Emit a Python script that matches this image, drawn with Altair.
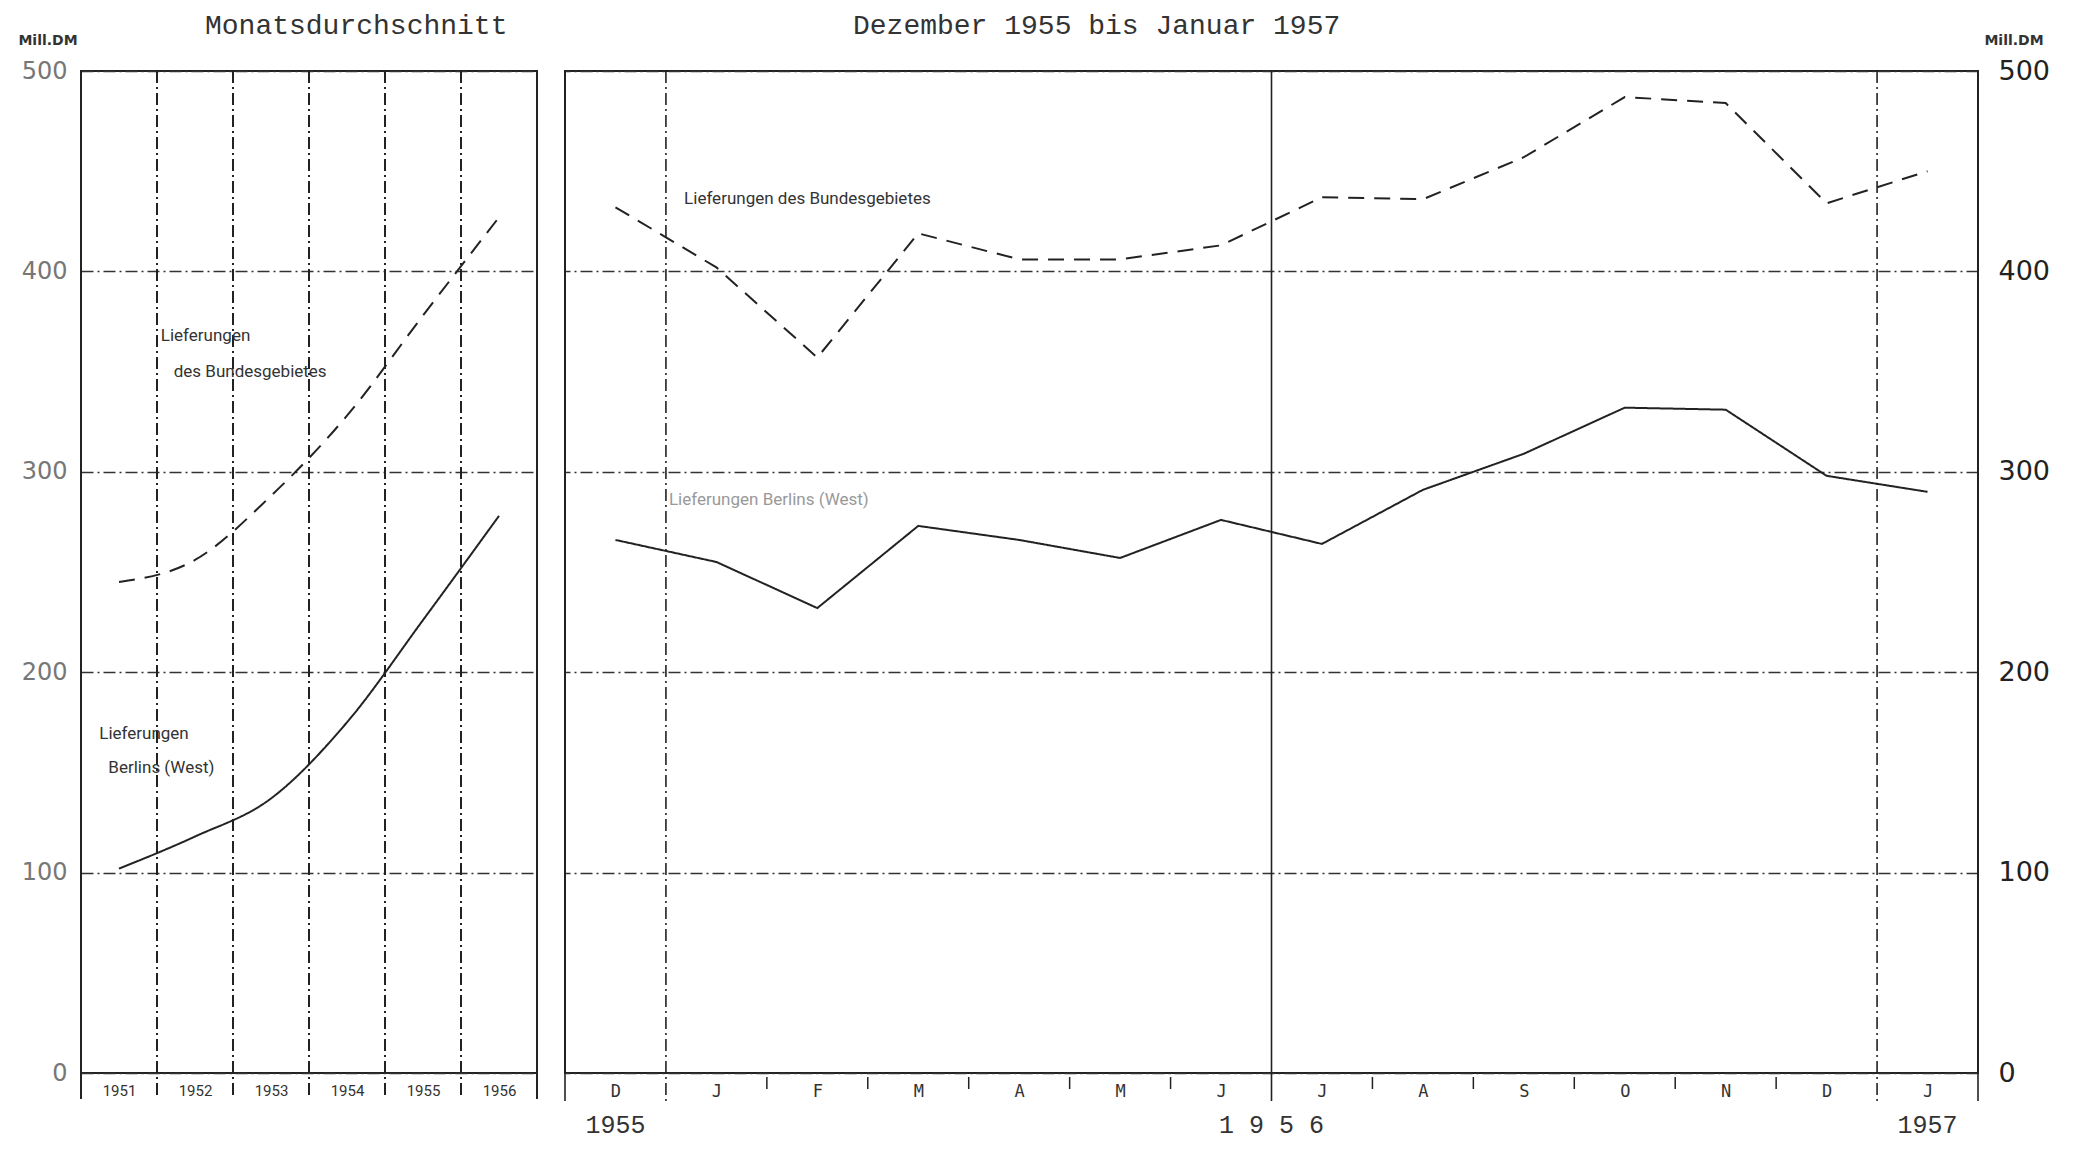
import altair as alt
import pandas as pd

# ---------------- data ----------------
years = [1951, 1952, 1953, 1954, 1955, 1956]
berlin_year = [102, 118, 137, 175, 226, 278]
bund_year = [245, 256, 288, 328, 378, 427]

months = ["D", "J", "F", "M", "A", "M", "J", "J", "A", "S", "O", "N", "D", "J"]
bund_month = [432, 402, 357, 419, 406, 406, 413, 437, 436, 457, 487, 484, 434, 450]
berlin_month = [266, 255, 232, 273, 266, 257, 276, 264, 291, 309, 332, 331, 298, 290]

y_ticks = [0, 100, 200, 300, 400, 500]
bottom_years = ["1955", "1 9 5 6", "1957"]
bottom_year_pos = [0, 6.5, 13]

W_L, W_R, H = 456, 1413, 1002
INK = "#222222"
DASHDOT = [12, 4, 2, 4]


def y_enc(field, orient="left", size=24, color="#777777", pad=14):
    return alt.Y(
        f"{field}:Q",
        scale=alt.Scale(domain=[0, 500], nice=False, zero=True),
        axis=alt.Axis(values=y_ticks, orient=orient, grid=True, gridDash=DASHDOT,
                      gridColor="#333333", gridWidth=1.5, ticks=False, domain=False,
                      labelFont="DejaVu Sans", labelFontSize=size, labelColor=color,
                      labelPadding=pad, title=None),
    )


# ---------------- left panel ----------------
year_expr = "[" + ",".join(f"'{y}'" for y in years) + "][datum.value]"
xaxis_L = alt.Axis(values=list(range(len(years))), labelExpr=year_expr, ticks=False,
                   domain=False, grid=False, labelFont="Roboto", labelFontSize=15,
                   labelColor="#333333", labelPadding=10, title=None)
xscale_L = alt.Scale(domain=[-0.5, len(years) - 0.5], nice=False, zero=False)


def xL(field):
    return alt.X(f"{field}:Q", scale=xscale_L, axis=xaxis_L)


left_df = pd.DataFrame({"i": list(range(len(years))), "Berlin": berlin_year, "Bund": bund_year})
left_long = left_df.melt("i", var_name="series", value_name="v")

dash_scale = alt.Scale(domain=["Berlin", "Bund"], range=[[1, 0], [16, 10]])

lines_L = alt.Chart(left_long).mark_line(color=INK, strokeWidth=2, interpolate="monotone").encode(
    x=xL("i"), y=y_enc("v"),
    strokeDash=alt.StrokeDash("series:N", scale=dash_scale, legend=None),
)

bL = pd.DataFrame({"b": [k - 0.5 for k in range(len(years) + 1)]})
bL["edge"] = ["y" if (k == 0 or k == len(years)) else "n" for k in range(len(years) + 1)]
rules_L_inner = alt.Chart(bL[bL.edge == "n"]).mark_rule(color=INK, strokeWidth=2, strokeDash=DASHDOT).encode(
    x=xL("b"), y=alt.value(0), y2=alt.value(H + 26))
rules_L_edge = alt.Chart(bL[bL.edge == "y"]).mark_rule(color=INK, strokeWidth=2).encode(
    x=xL("b"), y=alt.value(0), y2=alt.value(H + 26))

ann_L = pd.DataFrame({
    "x": [0.55, 0.72, -0.26, -0.14],
    "y": [368, 350, 169, 152],
    "t": ["Lieferungen", "des Bundesgebietes", "Lieferungen", "Berlins (West)"],
})
text_L = alt.Chart(ann_L).mark_text(align="left", baseline="middle", font="Roboto",
                                     fontSize=17, color="#333333").encode(
    x=xL("x"), y=y_enc("y"), text="t:N")

title_L = alt.Chart(pd.DataFrame({"t": ["Monatsdurchschnitt"]})).mark_text(
    align="left", baseline="middle", font="Liberation Mono", fontSize=28, color="#333333").encode(
    x=alt.value(124), y=alt.value(-45), text="t:N")
unit_L = alt.Chart(pd.DataFrame({"t": ["Mill.DM"]})).mark_text(
    align="center", baseline="middle", font="DejaVu Sans", fontSize=14, fontWeight="bold",
    color="#333333").encode(x=alt.value(-33), y=alt.value(-30), text="t:N")

left = alt.layer(rules_L_inner, rules_L_edge, lines_L, text_L, title_L, unit_L).properties(
    width=W_L, height=H)

# ---------------- right panel ----------------
month_expr = "[" + ",".join(f"'{m}'" for m in months) + "][datum.value]"
xaxis_R = alt.Axis(values=list(range(len(months))), labelExpr=month_expr, ticks=False,
                   domain=False, grid=False, labelFont="DejaVu Sans Mono", labelFontSize=17,
                   labelColor="#333333", labelPadding=10, title=None)
xscale_R = alt.Scale(domain=[-0.5, len(months) - 0.5], nice=False, zero=False)


def xR(field):
    return alt.X(f"{field}:Q", scale=xscale_R, axis=xaxis_R)


def yR(field):
    return y_enc(field, orient="right", size=27, color="#222222", pad=20)


right_df = pd.DataFrame({"i": list(range(len(months))), "Berlin": berlin_month, "Bund": bund_month})
right_long = right_df.melt("i", var_name="series", value_name="v")

lines_R = alt.Chart(right_long).mark_line(color=INK, strokeWidth=2).encode(
    x=xR("i"), y=yR("v"),
    strokeDash=alt.StrokeDash("series:N", scale=dash_scale, legend=None),
)

nb = len(months) + 1
bR = pd.DataFrame({"b": [k - 0.5 for k in range(nb)]})
kinds = []
for k in range(nb):
    if k == 0 or k == nb - 1:
        kinds.append("edge")
    elif k == 7:
        kinds.append("mid")
    elif months[k] == "J" and months[k - 1] == "D":
        kinds.append("year")
    else:
        kinds.append("tick")
bR["kind"] = kinds

rules_R_solid = alt.Chart(bR[bR.kind.isin(["edge", "mid"])]).mark_rule(color=INK, strokeWidth=1.6).encode(
    x=xR("b"), y=alt.value(0), y2=alt.value(H + 28))
rules_R_year = alt.Chart(bR[bR.kind == "year"]).mark_rule(color=INK, strokeWidth=1.6, strokeDash=DASHDOT).encode(
    x=xR("b"), y=alt.value(0), y2=alt.value(H + 28))
ticks_R = alt.Chart(bR[bR.kind == "tick"]).mark_rule(color=INK, strokeWidth=1.5).encode(
    x=xR("b"), y=alt.value(H + 4), y2=alt.value(H + 16))

ann_R = pd.DataFrame({
    "x": [0.68, 0.53],
    "y": [436, 286],
    "t": ["Lieferungen des Bundesgebietes", "Lieferungen Berlins (West)"],
    "c": ["a", "b"],
})
text_R = alt.Chart(ann_R).mark_text(align="left", baseline="middle", font="Roboto",
                                     fontSize=17).encode(
    x=xR("x"), y=yR("y"), text="t:N",
    color=alt.Color("c:N", scale=alt.Scale(domain=["a", "b"], range=["#333333", "#999999"]), legend=None))

yrs_R = alt.Chart(pd.DataFrame({"x": bottom_year_pos, "t": bottom_years})).mark_text(
    align="center", baseline="middle", font="Liberation Mono", fontSize=25, color="#333333").encode(
    x=xR("x"), y=alt.value(H + 52), text="t:N")

title_R = alt.Chart(pd.DataFrame({"t": ["Dezember 1955 bis Januar 1957"]})).mark_text(
    align="left", baseline="middle", font="Liberation Mono", fontSize=28, color="#333333").encode(
    x=alt.value(288), y=alt.value(-45), text="t:N")
unit_R = alt.Chart(pd.DataFrame({"t": ["Mill.DM"]})).mark_text(
    align="center", baseline="middle", font="DejaVu Sans", fontSize=14, fontWeight="bold",
    color="#333333").encode(x=alt.value(W_R + 36), y=alt.value(-30), text="t:N")

right = alt.layer(rules_R_solid, rules_R_year, ticks_R, lines_R, text_R, yrs_R, title_R, unit_R).properties(
    width=W_R, height=H)

chart = alt.hconcat(left, right, spacing=24).properties(
    padding={"left": 9, "top": 3, "right": 0, "bottom": 22},
    background="white",
).configure_view(stroke=INK, strokeWidth=2)

chart.save("out.html", embed_options={"renderer": "svg", "actions": False})
